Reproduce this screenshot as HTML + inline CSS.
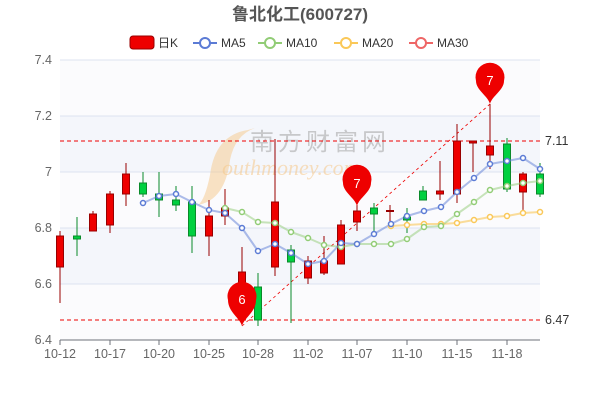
<!DOCTYPE html><html><head><meta charset="utf-8"><style>body{margin:0;background:#fff}svg{display:block;font-family:"Liberation Sans","Noto Sans CJK SC",sans-serif}</style></head><body>
<svg width="600" height="400" viewBox="0 0 600 400">
<text x="300" y="20" text-anchor="middle" font-size="17" font-weight="bold" fill="#555">鲁北化工(600727)</text>
<g font-size="12" fill="#333">
<rect x="130" y="36" width="24" height="13" rx="3" fill="#e00" stroke="#900"/><text x="158" y="47">日K</text>
<line x1="193" y1="43" x2="217" y2="43" stroke="#5b7bd5" stroke-width="2"/><circle cx="205" cy="43" r="5" fill="#fff" stroke="#5b7bd5" stroke-width="2"/><text x="221" y="47">MA5</text>
<line x1="258" y1="43" x2="282" y2="43" stroke="#91cc75" stroke-width="2"/><circle cx="270" cy="43" r="5" fill="#fff" stroke="#91cc75" stroke-width="2"/><text x="286" y="47">MA10</text>
<line x1="334" y1="43" x2="358" y2="43" stroke="#fac858" stroke-width="2"/><circle cx="346" cy="43" r="5" fill="#fff" stroke="#fac858" stroke-width="2"/><text x="362" y="47">MA20</text>
<line x1="409" y1="43" x2="433" y2="43" stroke="#ee6666" stroke-width="2"/><circle cx="421" cy="43" r="5" fill="#fff" stroke="#ee6666" stroke-width="2"/><text x="437" y="47">MA30</text>
</g>
<rect x="60" y="60" width="480" height="56" fill="#fbfbfd"/>
<rect x="60" y="116" width="480" height="56" fill="#f4f6fb"/>
<rect x="60" y="172" width="480" height="56" fill="#fbfbfd"/>
<rect x="60" y="228" width="480" height="56" fill="#f4f6fb"/>
<rect x="60" y="284" width="480" height="56" fill="#fbfbfd"/>
<g stroke="#dde3f0"><line x1="60" y1="60" x2="540" y2="60"/><line x1="60" y1="116" x2="540" y2="116"/><line x1="60" y1="172" x2="540" y2="172"/><line x1="60" y1="228" x2="540" y2="228"/><line x1="60" y1="284" x2="540" y2="284"/></g>
<g font-size="12.5" fill="#666" text-anchor="end"><text x="52" y="64">7.4</text><text x="52" y="120">7.2</text><text x="52" y="176">7</text><text x="52" y="232">6.8</text><text x="52" y="288">6.6</text><text x="52" y="344">6.4</text></g>
<path d="M248 130 Q215 135 210 175 Q205 200 198 205 Q225 200 230 160 Q235 135 255 128Z" fill="#f6c88a" opacity="0.5"/>
<text x="250" y="150" font-size="24" fill="#aaa" opacity="0.6" letter-spacing="4">南方财富网</text>
<text x="222" y="175" font-size="22" fill="#f6c88a" opacity="0.55" font-style="italic" font-family="Liberation Serif,serif">outhmoney.com</text>
<line x1="60" y1="340" x2="540" y2="340" stroke="#6e7079"/>
<g stroke="#6e7079"><line x1="60" y1="340" x2="60" y2="345"/><line x1="110" y1="340" x2="110" y2="345"/><line x1="159" y1="340" x2="159" y2="345"/><line x1="209" y1="340" x2="209" y2="345"/><line x1="258" y1="340" x2="258" y2="345"/><line x1="308" y1="340" x2="308" y2="345"/><line x1="357" y1="340" x2="357" y2="345"/><line x1="407" y1="340" x2="407" y2="345"/><line x1="457" y1="340" x2="457" y2="345"/><line x1="507" y1="340" x2="507" y2="345"/></g>
<g font-size="12.5" fill="#666" text-anchor="middle"><text x="60" y="358">10-12</text><text x="110" y="358">10-17</text><text x="159" y="358">10-20</text><text x="209" y="358">10-25</text><text x="258" y="358">10-28</text><text x="308" y="358">11-02</text><text x="357" y="358">11-07</text><text x="407" y="358">11-10</text><text x="457" y="358">11-15</text><text x="507" y="358">11-18</text></g>
<g stroke="#e00" stroke-dasharray="4,3"><line x1="60" y1="141" x2="540" y2="141"/><line x1="60" y1="320" x2="540" y2="320"/></g>
<line x1="242" y1="326" x2="490" y2="104" stroke="#e00" stroke-dasharray="3,3" stroke-width="0.8"/>
<g font-size="12.5" fill="#333"><text x="545" y="145">7.11</text><text x="545" y="324">6.47</text></g>
<g stroke-width="1">
<g stroke="#900" fill="#e00">
<line x1="60" y1="231" x2="60" y2="303"/><rect x="56.5" y="236" width="7" height="31"/>
<line x1="93" y1="211" x2="93" y2="231"/><rect x="89.5" y="214" width="7" height="17"/>
<line x1="110" y1="191" x2="110" y2="233"/><rect x="106.5" y="194" width="7" height="31"/>
<line x1="126" y1="163" x2="126" y2="206"/><rect x="122.5" y="174" width="7" height="20"/>
<line x1="209" y1="200" x2="209" y2="256"/><rect x="205.5" y="216" width="7" height="20"/>
<line x1="225" y1="189" x2="225" y2="225"/><rect x="221.5" y="208" width="7" height="8"/>
<line x1="242" y1="247" x2="242" y2="300"/><rect x="238.5" y="272" width="7" height="24"/>
<line x1="275" y1="139" x2="275" y2="276"/><rect x="271.5" y="202" width="7" height="65"/>
<line x1="308" y1="256" x2="308" y2="284"/><rect x="304.5" y="261" width="7" height="17"/>
<line x1="324" y1="236" x2="324" y2="275"/><rect x="320.5" y="261" width="7" height="12"/>
<line x1="341" y1="220" x2="341" y2="264"/><rect x="337.5" y="225" width="7" height="39"/>
<line x1="357" y1="205" x2="357" y2="231"/><rect x="353.5" y="211" width="7" height="11"/>
<line x1="390" y1="205" x2="390" y2="225"/><rect x="386.5" y="210.5" width="7" height="1"/>
<line x1="440" y1="161" x2="440" y2="200"/><rect x="436.5" y="191" width="7" height="3"/>
<line x1="457" y1="124" x2="457" y2="203"/><rect x="453.5" y="141" width="7" height="53"/>
<line x1="473" y1="141" x2="473" y2="172"/><rect x="469.5" y="141" width="7" height="2"/>
<line x1="490" y1="104" x2="490" y2="169"/><rect x="486.5" y="146" width="7" height="9"/>
<line x1="523" y1="172" x2="523" y2="212"/><rect x="519.5" y="174" width="7" height="18"/>
</g>
<g stroke="#0a8a2a" fill="#00d040">
<line x1="77" y1="217" x2="77" y2="256"/><rect x="73.5" y="236" width="7" height="3"/>
<line x1="143" y1="172" x2="143" y2="197"/><rect x="139.5" y="183" width="7" height="11"/>
<line x1="159" y1="172" x2="159" y2="217"/><rect x="155.5" y="194" width="7" height="6"/>
<line x1="176" y1="186" x2="176" y2="211"/><rect x="172.5" y="200" width="7" height="5"/>
<line x1="192" y1="186" x2="192" y2="253"/><rect x="188.5" y="202" width="7" height="34"/>
<line x1="258" y1="273" x2="258" y2="326"/><rect x="254.5" y="287" width="7" height="33"/>
<line x1="291" y1="245" x2="291" y2="323"/><rect x="287.5" y="250" width="7" height="12"/>
<line x1="374" y1="203" x2="374" y2="233"/><rect x="370.5" y="208" width="7" height="6"/>
<line x1="407" y1="208" x2="407" y2="233"/><rect x="403.5" y="217" width="7" height="3"/>
<line x1="423" y1="186" x2="423" y2="200"/><rect x="419.5" y="191" width="7" height="9"/>
<line x1="507" y1="138" x2="507" y2="192"/><rect x="503.5" y="144" width="7" height="45"/>
<line x1="540" y1="163" x2="540" y2="197"/><rect x="536.5" y="174" width="7" height="20"/>
</g></g>
<g fill="none" stroke-width="2" stroke-linejoin="round">
<polyline stroke="#fac858" opacity="0.6" points="391,226 407,225 424,224 441,224 457,223 474,220 490,217 507,216 523,213 540,212"/>
<polyline stroke="#91cc75" opacity="0.5" points="225,208 242,212 258,222 275,223 291,232 308,238 324,245 341,247 357,244 374,244 391,244 407,239 424,227 441,226 457,214 474,202 490,190 507,186 523,183 540,181"/>
<polyline stroke="#5b7bd5" opacity="0.5" points="143,203 159,196 176,194 192,202 209,210 225,213 242,228 258,251 275,244 291,253 308,264 324,261 341,243 357,244 374,234 391,224 407,216 424,211 441,207 457,192 474,178 490,164 507,161 523,158 540,169"/>
</g>
<g fill="#fff" stroke-width="1.5">
<g stroke="#fac858"><circle cx="391" cy="226" r="2.5"/><circle cx="407" cy="225" r="2.5"/><circle cx="424" cy="224" r="2.5"/><circle cx="441" cy="224" r="2.5"/><circle cx="457" cy="223" r="2.5"/><circle cx="474" cy="220" r="2.5"/><circle cx="490" cy="217" r="2.5"/><circle cx="507" cy="216" r="2.5"/><circle cx="523" cy="213" r="2.5"/><circle cx="540" cy="212" r="2.5"/></g>
<g stroke="#91cc75"><circle cx="225" cy="208" r="2.5"/><circle cx="242" cy="212" r="2.5"/><circle cx="258" cy="222" r="2.5"/><circle cx="275" cy="223" r="2.5"/><circle cx="291" cy="232" r="2.5"/><circle cx="308" cy="238" r="2.5"/><circle cx="324" cy="245" r="2.5"/><circle cx="341" cy="247" r="2.5"/><circle cx="357" cy="244" r="2.5"/><circle cx="374" cy="244" r="2.5"/><circle cx="391" cy="244" r="2.5"/><circle cx="407" cy="239" r="2.5"/><circle cx="424" cy="227" r="2.5"/><circle cx="441" cy="226" r="2.5"/><circle cx="457" cy="214" r="2.5"/><circle cx="474" cy="202" r="2.5"/><circle cx="490" cy="190" r="2.5"/><circle cx="507" cy="186" r="2.5"/><circle cx="523" cy="183" r="2.5"/><circle cx="540" cy="181" r="2.5"/></g>
<g stroke="#5b7bd5"><circle cx="143" cy="203" r="2.5"/><circle cx="159" cy="196" r="2.5"/><circle cx="176" cy="194" r="2.5"/><circle cx="192" cy="202" r="2.5"/><circle cx="209" cy="210" r="2.5"/><circle cx="225" cy="213" r="2.5"/><circle cx="242" cy="228" r="2.5"/><circle cx="258" cy="251" r="2.5"/><circle cx="275" cy="244" r="2.5"/><circle cx="291" cy="253" r="2.5"/><circle cx="308" cy="264" r="2.5"/><circle cx="324" cy="261" r="2.5"/><circle cx="341" cy="243" r="2.5"/><circle cx="357" cy="244" r="2.5"/><circle cx="374" cy="234" r="2.5"/><circle cx="391" cy="224" r="2.5"/><circle cx="407" cy="216" r="2.5"/><circle cx="424" cy="211" r="2.5"/><circle cx="441" cy="207" r="2.5"/><circle cx="457" cy="192" r="2.5"/><circle cx="474" cy="178" r="2.5"/><circle cx="490" cy="164" r="2.5"/><circle cx="507" cy="161" r="2.5"/><circle cx="523" cy="158" r="2.5"/><circle cx="540" cy="169" r="2.5"/></g>
</g>
<g fill="#e00">
<path d="M242 326 C240 318 228 312 228 300 A14.5 14.5 0 1 1 256 300 C256 312 244 318 242 326Z"/>
<path d="M357 206 C355 198 343 192 343 183 A14.5 14.5 0 1 1 371 183 C371 192 359 198 357 206Z"/>
<path d="M490 104 C488 96 476 90 476 81 A14.5 14.5 0 1 1 504 81 C504 90 492 96 490 104Z"/>
</g>
<g fill="#fff" font-size="13" text-anchor="middle"><text x="242" y="304">6</text><text x="357" y="188">7</text><text x="490" y="85">7</text></g>
</svg></body></html>
